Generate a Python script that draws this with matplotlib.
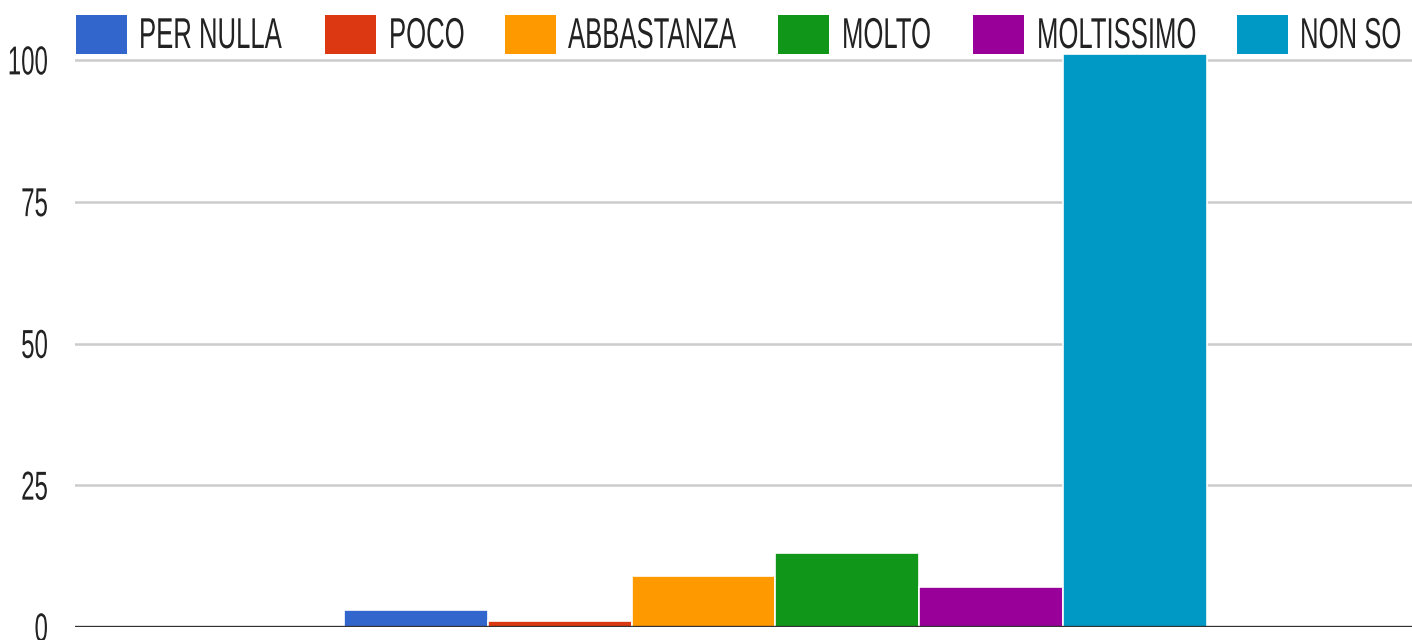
import matplotlib
matplotlib.use("Agg")
import matplotlib.pyplot as plt
from matplotlib.patches import Rectangle
from matplotlib.patheffects import AbstractPathEffect
from matplotlib.transforms import Affine2D

series = ["PER NULLA", "POCO", "ABBASTANZA", "MOLTO", "MOLTISSIMO", "NON SO"]
values = [3, 1, 9, 13, 7, 101]
colors = ["#3366cc", "#dc3912", "#ff9900", "#109618", "#990099", "#0099c6"]
yticks = [0, 25, 50, 75, 100]

W, H = 1412, 640
plt.rcParams["font.family"] = ["Liberation Sans", "DejaVu Sans"]
fig = plt.figure(figsize=(W / 100, H / 100), dpi=100)


class Stretch(AbstractPathEffect):
    """Draw the text condensed/tall like the reference (scale glyphs about a pivot)."""

    def __init__(self, sx=1.0, sy=1.0, cy=0.0):
        super().__init__()
        self.sx, self.sy, self.cy = sx, sy, cy

    def draw_path(self, renderer, gc, tpath, affine, rgbFace=None):
        pre = Affine2D().translate(0, -self.cy).scale(self.sx, self.sy).translate(0, self.cy)
        renderer.draw_path(gc, tpath, pre + affine, rgbFace)


TXT = "#222222"
SY = 1.68

# axes: left at x=75px, y=0 at 627px, y=100 at 60px
ax = fig.add_axes([75 / W, (H - 627) / H, 1 - 75 / W, 627 / H])
ax.set_ylim(0, 627 / 5.67)
ax.set_xlim(-0.5 - (344 - 75) / 143.8, -0.5 + (1412 - 344) / 143.8)

for i, (v, c) in enumerate(zip(values, colors)):
    ax.bar(i, v, width=1.0, color=c, edgecolor="white", linewidth=1.2, zorder=3)

ax.set_yticks(yticks)
ax.set_yticklabels([str(t) for t in yticks])
ax.tick_params(axis="y", length=0, pad=19.5, labelsize=17.3, labelcolor=TXT)
for lab in ax.get_yticklabels():
    lab.set_path_effects([Stretch(1.0, SY, cy=36)])
ax.set_xticks([])
for s in ax.spines.values():
    s.set_visible(False)
for t in yticks[1:]:
    ax.axhline(t, color="#cccccc", linewidth=1.8, zorder=1)
ax.axhline(0, color="#333333", linewidth=2.4, zorder=4)

# legend (Google-charts style, laid out across the top)
box_x = [76, 325, 505, 778, 973, 1237]
text_x = [139, 389, 568, 842, 1037, 1300]
box_w, box_top, box_bot = 51, 15, 54
text_base = 48
for bx, tx, lab, c in zip(box_x, text_x, series, colors):
    fig.patches.append(Rectangle((bx / W, 1 - box_bot / H), box_w / W, (box_bot - box_top) / H,
                                 transform=fig.transFigure, facecolor=c, edgecolor="none"))
    t = fig.text(tx / W, 1 - text_base / H, lab, fontsize=18.5, color=TXT,
                 ha="left", va="baseline")
    t.set_path_effects([Stretch(1.0, SY, cy=0)])

fig.savefig("out.png", dpi=100)
